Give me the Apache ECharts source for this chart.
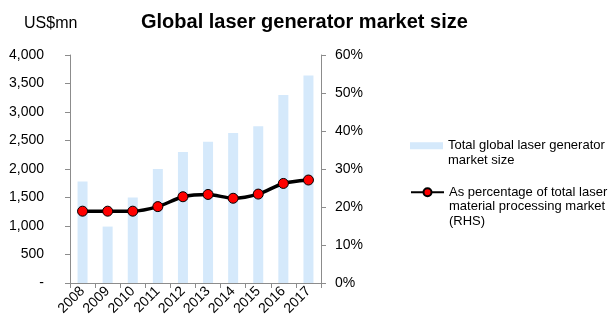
<!DOCTYPE html>
<html>
<head>
<meta charset="utf-8">
<script src="https://cdn.jsdelivr.net/npm/echarts@6/dist/echarts.min.js"></script>
<style>
  html, body { margin: 0; padding: 0; background: #fff; }
  #chart { width: 611px; height: 327px; }
</style>
</head>
<body>
<div id="chart"></div>
<script>
// Years on the category axis
const years = ['2008', '2009', '2010', '2011', '2012', '2013', '2014', '2015', '2016', '2017'];
// Total global laser generator market size, US$mn
const marketSize = [1780, 990, 1500, 2000, 2300, 2480, 2630, 2750, 3300, 3640];
// Share of total laser material processing market, %
const sharePct = [18.9, 18.9, 18.9, 20.1, 22.7, 23.3, 22.3, 23.4, 26.2, 27.1];

const seriesNames = [
  'Total global laser generator\nmarket size',
  'As percentage of total laser\nmaterial processing market\n(RHS)'
];

const font = 'Arial, "Liberation Sans", sans-serif';
const axisColor = '#8c8c8c';
const legendText = { fontFamily: font, fontSize: 13, color: '#000', lineHeight: 14.5 };

// Blank lines on top keep the legend icon level with the first line of a wrapped label
function alignFirstLine(name) {
  const extra = name.split('\n').length - 1;
  return '\n'.repeat(extra) + name;
}

const chart = echarts.init(document.getElementById('chart'), null, { renderer: 'canvas' });

chart.setOption({
  animation: false,
  textStyle: { fontFamily: font },
  title: [
    {
      text: 'Global laser generator market size',
      left: 136, top: 7,
      textStyle: { fontFamily: font, fontSize: 20, fontWeight: 'bold', color: '#000' }
    },
    {
      text: 'US$mn',
      left: 19, top: 11,
      textStyle: { fontFamily: font, fontSize: 16, fontWeight: 'normal', color: '#000' }
    }
  ],
  grid: { left: 70, right: 290, top: 55, bottom: 44, containLabel: false },
  legend: [
    {
      left: 410, top: 124, padding: 0,
      itemWidth: 33, itemHeight: 7,
      textStyle: legendText,
      formatter: alignFirstLine,
      data: [{ name: seriesNames[0], icon: 'rect' }]
    },
    {
      left: 410, top: 156, padding: 0,
      itemWidth: 33, itemHeight: 10,
      textStyle: legendText,
      formatter: alignFirstLine,
      data: [{ name: seriesNames[1] }]
    }
  ],
  xAxis: {
    type: 'category',
    data: years,
    boundaryGap: true,
    axisLine: { lineStyle: { color: axisColor, width: 1 } },
    axisTick: { show: true, alignWithLabel: false, length: 5, lineStyle: { color: axisColor } },
    axisLabel: { interval: 0, rotate: 45, fontSize: 14, color: '#000', margin: 6, fontFamily: font }
  },
  yAxis: [
    {
      type: 'value',
      min: 0, max: 4000, interval: 500,
      axisLine: { show: true, lineStyle: { color: axisColor } },
      axisTick: { show: true, length: 5, lineStyle: { color: axisColor } },
      splitLine: { show: false },
      axisLabel: {
        fontSize: 14, color: '#000', margin: 26, fontFamily: font,
        formatter: v => v === 0 ? '-' : v.toLocaleString('en-US')
      }
    },
    {
      type: 'value',
      min: 0, max: 60, interval: 10,
      position: 'right',
      axisLine: { show: true, lineStyle: { color: axisColor } },
      axisTick: { show: true, length: 5, lineStyle: { color: axisColor } },
      splitLine: { show: false },
      axisLabel: { fontSize: 14, color: '#000', margin: 14, fontFamily: font, formatter: '{value}%' }
    }
  ],
  series: [
    {
      name: seriesNames[0],
      type: 'bar',
      data: marketSize,
      barWidth: 10,
      itemStyle: { color: '#d5e9fb' }
    },
    {
      name: seriesNames[1],
      type: 'line',
      yAxisIndex: 1,
      data: sharePct,
      smooth: 0.25,
      symbol: 'circle',
      symbolSize: 10,
      lineStyle: { color: '#000', width: 3.5 },
      itemStyle: { color: '#ff0000', borderColor: '#000', borderWidth: 1 }
    }
  ]
});
</script>
</body>
</html>
